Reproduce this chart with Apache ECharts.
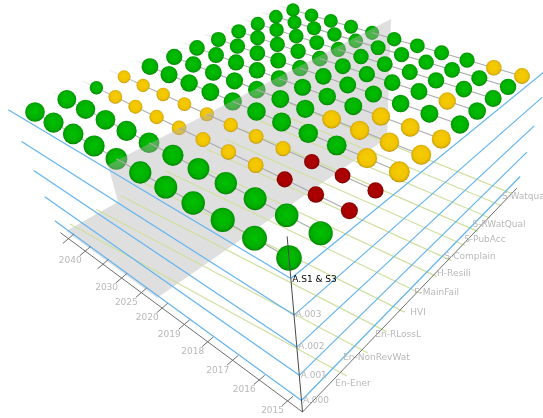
<!DOCTYPE html>
<html>
<head>
<meta charset="utf-8">
<script src="https://cdn.jsdelivr.net/npm/echarts@6/dist/echarts.min.js"></script>
<style>
  html, body { margin: 0; padding: 0; background: #fff; }
  #chart { width: 543px; height: 418px; }
</style>
</head>
<body>
<div id="chart"></div>
<script>
const yearLabels = ['2015', '2016', '2017', '2018', '2019', '2020', '2025', '2030', '', '2040', '']
const indicatorLabels = ['En-Ener', 'En-NonRevWat', 'En-RLossL', 'HVI', 'F-MainFail', 'H-Resili', 'S-Complain', 'S-PubAcc', 'S-RWatQual', '', 'S-Watqual', '']
const levelLabels = ['A.000', 'A.001', 'A.002', 'A.003', 'A.S1 & S3']

// one list per indicator, one letter per year: G ok, Y warning, R failing
const ballStatus = [
  'GGGGGGGGGGG',
  'GGGGGGGGGGG',
  'RRRYYYYYYYG',
  'RRRYYYYYYYY',
  'YYGGGGGGGGG',
  'YYYYGGGGGGG',
  'YYYGGGGGGGG',
  'GGGGGGGGGGG',
  'GYGGGGGGGGG',
  'GGGGGGGGGGG',
  'GGGGGGGGGGG',
  'YYGGGGGGGGG'
]
const indicatorWeight = [1, 1, 0.74, 0.74, 1, 1, 1, 1, 1, 1, 1, 1]

const BALL_COLORS = {
  G: ['#00c000', '#00b000', '#009a00', '#007800'],
  Y: ['#f6cc00', '#f0c400', '#dcae00', '#a88600'],
  R: ['#b00000', '#a60000', '#900000', '#680000']
}

// the wall that marks the current year, as it lies on the page
const WALL_OUTLINE = [[66, 231], [118, 202], [108, 165], [391, 19], [387, 138], [157, 298]]
const WALL_YEAR = 6

// perspective of the floor box, u along years, v along indicators, z upwards
const floorPoint = (u, v, z) => {
  const w = 1 + 0.3014 * u + 0.4192 * v - 0.054 * z
  return [
    (302.5 - 174.9 * u + 388.9 * v - 18.3 * z) / w,
    (412 - 72.9 * u - 101 * v - 44.7 * z) / w,
    w
  ]
}
const FLOOR_U = 1.254
const FLOOR_V = 1.245
const yearU = (i) => (i + 0.5) * FLOOR_U / yearLabels.length
const indicatorV = (j) => (j + 0.5) * FLOOR_V / indicatorLabels.length

// perspective of the plane the balls sit on
const ballPoint = (u, v) => {
  const w = 1 + 0.4128 * u + 0.5742 * v
  return [
    (289 - 239.55 * u + 532.7 * v) / w,
    (258 - 99.8 * u - 138.4 * v) / w,
    w
  ]
}

// the pale guide lines slant across the box, so they get their own plane
const guidePoint = (u, v) => {
  const w = 1 + 0.1907 * u + 0.4367 * v
  return [(347 - 263.6 * u + 388.6 * v) / w, (376 - 109.3 * u - 97.8 * v) / w]
}

const toPage = (api, p) => api.coord([p[0], p[1]])

const lineEl = (api, a, b, stroke, width) => {
  const p = toPage(api, a)
  const q = toPage(api, b)
  return {
    type: 'line',
    shape: { x1: p[0], y1: p[1], x2: q[0], y2: q[1] },
    style: { stroke, lineWidth: width }
  }
}

const textEl = (api, p, text, fill, align) => {
  const c = toPage(api, p)
  return {
    type: 'text',
    style: {
      x: c[0], y: c[1], text, fill, align,
      verticalAlign: 'middle',
      font: '9px "DejaVu Sans"'
    }
  }
}

const drawingSeries = (name, z, draw) => ({
  name,
  type: 'custom',
  coordinateSystem: 'cartesian2d',
  z,
  silent: true,
  clip: false,
  data: [[0, 0]],
  renderItem: (params, api) => ({ type: 'group', children: draw(api) })
})

const ballData = (keep) => {
  const rows = []
  for (let i = yearLabels.length - 1; i >= 0; i--) {
    if (!keep(i)) continue
    for (let j = indicatorLabels.length - 1; j >= 0; j--) {
      rows.push([i, j, ballStatus[j][i], indicatorWeight[j]])
    }
  }
  return rows
}

const ballSeries = (name, z, keep) => ({
  name,
  type: 'custom',
  coordinateSystem: 'cartesian2d',
  z,
  silent: true,
  clip: false,
  data: ballData(keep),
  encode: { x: 0, y: 1 },
  renderItem: (params, api) => {
    const u = api.value(0) / (yearLabels.length - 1)
    const v = api.value(1) / (indicatorLabels.length - 1)
    const c = toPage(api, ballPoint(u, v))
    const colors = BALL_COLORS[api.value(2)]
    return {
      type: 'circle',
      shape: { cx: c[0], cy: c[1], r: 12.8 * api.value(3) / (1 + 0.3 * u + 0.62 * v) },
      style: {
        fill: new echarts.graphic.RadialGradient(0.5, 0.48, 0.52, [
          { offset: 0, color: colors[0] },
          { offset: 0.7, color: colors[1] },
          { offset: 0.9, color: colors[2] },
          { offset: 1, color: colors[3] }
        ])
      }
    }
  }
})

const rowLines = (api, from, to, fade) => indicatorLabels.map((name, j) => {
  const v = j / (indicatorLabels.length - 1)
  const a = ballPoint(from, v)
  const b = ballPoint(to, v)
  const stroke = fade
    ? new echarts.graphic.LinearGradient(a[0], a[1], b[0], b[1], [
      { offset: 0, color: '#aaaaaa' },
      { offset: 0.72, color: '#b4b4b4' },
      { offset: 1, color: '#f4f4f4' }
    ], true)
    : '#aaaaaa'
  return lineEl(api, a, b, stroke, 1.1)
})

const boxLines = (api) => {
  const els = []
  indicatorLabels.forEach((name, j) => {
    const v = j / (indicatorLabels.length - 1)
    els.push(lineEl(api, guidePoint(0, v), guidePoint(1, v), '#cfe0a0', 1.2))
  })
  levelLabels.forEach((name, k) => {
    const z = k + 0.5
    const start = floorPoint(0, 0, z)
    els.push(lineEl(api, start, floorPoint(FLOOR_U - 0.012 * k, 0, z), '#62b4f0', 1.2))
    els.push(lineEl(api, start, floorPoint(0, FLOOR_V, z), '#62b4f0', 1.2))
  })
  const corner = floorPoint(0, 0, 0)
  els.push(lineEl(api, corner, floorPoint(FLOOR_U, 0, 0), '#6e6e6e', 1))
  els.push(lineEl(api, corner, floorPoint(0, FLOOR_V, 0), '#6e6e6e', 1))
  yearLabels.forEach((name, i) => {
    const t = floorPoint(yearU(i), 0, 0)
    els.push(lineEl(api, [t[0] - 5.5, t[1] + 4.7], [t[0] + 5.5, t[1] - 4.7], '#6e6e6e', 1))
  })
  return els
}

const axisTexts = (api) => {
  const els = []
  yearLabels.forEach((name, i) => {
    const t = floorPoint(yearU(i), 0, 0)
    els.push(textEl(api, [t[0] - 15, t[1] + 10], name, '#b8b8b8', 'center'))
  })
  indicatorLabels.forEach((name, j) => {
    const t = floorPoint(0, indicatorV(j), 0)
    els.push(textEl(api, [t[0] + 38 / t[2], t[1] - 15 / t[2]], name, '#b8b8b8', 'center'))
  })
  levelLabels.forEach((name, k) => {
    const t = floorPoint(0, 0, k + 0.5)
    const isTop = k === levelLabels.length - 1
    els.push(textEl(api, [t[0] + 1.5, t[1] + (isTop ? 1.5 : 0)], name, isTop ? '#000000' : '#b8b8b8', 'left'))
  })
  els.push(lineEl(api, floorPoint(0, 0, 0), floorPoint(0, 0, 5.5), '#4a4a4a', 1))
  return els
}

const wallU = WALL_YEAR / (yearLabels.length - 1)
const keepBack = (i) => i >= WALL_YEAR
const keepFront = (i) => i < WALL_YEAR

const chart = echarts.init(document.getElementById('chart'), null, { renderer: 'canvas' })
chart.setOption({
  backgroundColor: '#ffffff',
  animation: false,
  grid: { left: 0, right: 0, top: 0, bottom: 0 },
  xAxis: { type: 'value', min: 0, max: 543, show: false },
  yAxis: { type: 'value', min: 0, max: 418, inverse: true, show: false },
  series: [
    drawingSeries('back rows', 1, (api) => rowLines(api, wallU, 1.08, true)),
    ballSeries('back balls', 2, keepBack),
    drawingSeries('wall', 3, (api) => {
      const points = WALL_OUTLINE.map((p) => toPage(api, p))
      return [{
        type: 'polygon',
        shape: { points },
        style: { fill: 'rgba(178, 178, 178, 0.42)' }
      }]
    }),
    drawingSeries('box', 4, boxLines),
    drawingSeries('front rows', 5, (api) => rowLines(api, 0, wallU, false)),
    ballSeries('front balls', 6, keepFront),
    drawingSeries('axis text', 7, axisTexts)
  ]
})
</script>
</body>
</html>
